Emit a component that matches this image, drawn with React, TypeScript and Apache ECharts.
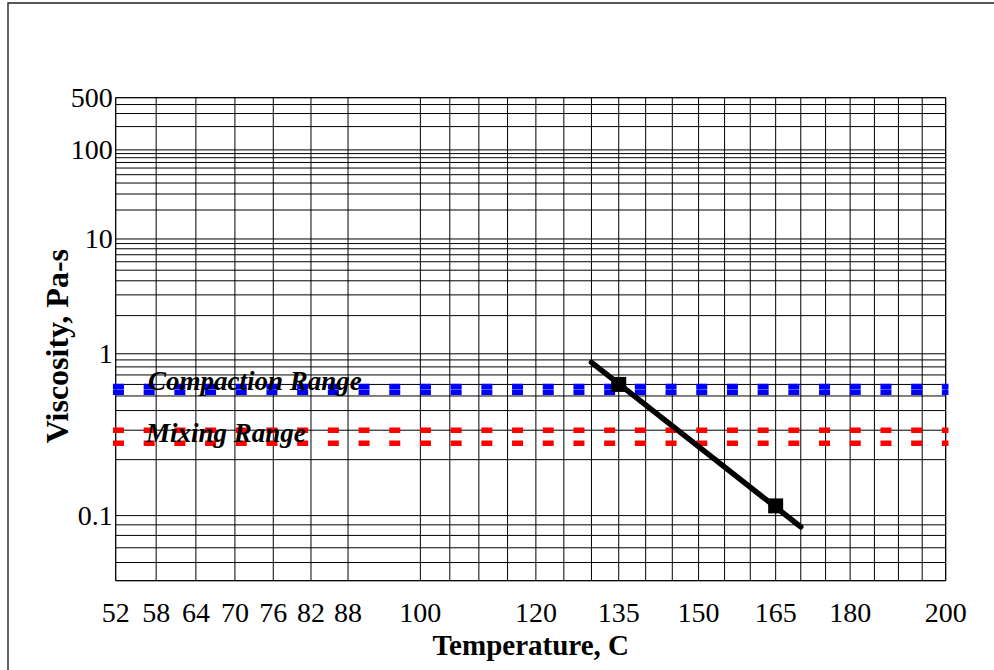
import React, { useEffect, useRef } from "react";
import * as echarts from "echarts";

// Temperature axis (°C) — plotted on log10(T + 273.15)
const tempRange = [52, 200];
const xTickTemps = [52, 58, 64, 70, 76, 82, 88, 100, 120, 135, 150, 165, 180, 200];
const xGridTemps = [52, 58, 64, 70, 76, 82, 88, 100, 105, 110, 115, 120, 125, 130, 135, 140, 145, 150, 155, 160, 165, 170, 175, 180, 185, 190, 195, 200];

// Viscosity axis (Pa-s) — plotted on log10(log10(mPa-s))
const viscRange = [0.05, 500];
const yTickVisc = [500, 100, 10, 1, 0.1];
const yGridVisc = [
  500, 400, 300, 200, 100,
  90, 80, 70, 60, 50, 40, 30, 20, 10,
  9, 8, 7, 6, 5, 4, 3, 2, 1,
  0.9, 0.8, 0.7, 0.6, 0.5, 0.4, 0.3, 0.2, 0.1,
  0.09, 0.08, 0.07, 0.06, 0.05,
];

// Ranges (Pa-s)
const compactionVisc = [0.58, 0.53];
const mixingVisc = [0.3, 0.25];

// Fitted viscosity line and measured points
const fitTemps = [130, 170];
const fitVisc = [0.863, 0.088];
const measTemps = [135, 165];
const measVisc = [0.6, 0.112];

const tx = (t: number) => Math.log10(t + 273.15);
const ty = (v: number) => Math.log10(Math.log10(v * 1000));

const FONT = "'Liberation Serif', 'Times New Roman', serif";

export default function App() {
  const ref = useRef<HTMLDivElement>(null);
  useEffect(() => {
    if (!ref.current) return;
    const chart = echarts.init(ref.current, undefined, { renderer: "svg" });
    const xMin = tx(tempRange[0]);
    const xMax = tx(tempRange[1]);
    const yMin = ty(viscRange[0]);
    const yMax = ty(viscRange[1]);

    const rangeSeries = (vals: number[], color: string, name: string) =>
      vals.map((v, i) => ({
        name: name + i,
        type: "line",
        z: 3,
        silent: true,
        symbol: "none",
        data: [
          [xMin, ty(v)],
          [xMax, ty(v)],
        ],
        lineStyle: { color, width: 5.5, type: [5.5, 25.2], cap: "square", opacity: 1 },
      }));

    const option: any = {
      animation: false,
      backgroundColor: "#fff",
      grid: {
        left: 115.7,
        top: 97.7,
        right: 48.3,
        bottom: 89.3,
        show: true,
        borderColor: "#000",
        borderWidth: 1,
        backgroundColor: "transparent",
      },
      xAxis: {
        type: "value",
        min: xMin,
        max: xMax,
        name: "Temperature, C",
        nameLocation: "middle",
        nameGap: 50,
        nameMoveOverlap: false,
        nameTextStyle: { fontFamily: FONT, fontWeight: "bold", fontSize: 29, color: "#000" },
        axisLine: { show: false },
        axisTick: { show: false },
        splitLine: { show: false },
        axisLabel: {
          customValues: xTickTemps.map(tx),
          formatter: (v: number) => String(Math.round(Math.pow(10, v) - 273.15)),
          fontFamily: FONT,
          fontSize: 28,
          color: "#000",
          margin: 18,
          showMinLabel: true,
          showMaxLabel: true,
        },
      },
      yAxis: {
        type: "value",
        min: yMin,
        max: yMax,
        name: "Viscosity, Pa-s",
        nameLocation: "middle",
        nameGap: 43,
        nameMoveOverlap: false,
        nameTextStyle: { fontFamily: FONT, fontWeight: "bold", fontSize: 32, color: "#000", padding: [0, 14, 0, 0] },
        axisLine: { show: false },
        axisTick: { show: false },
        splitLine: { show: false },
        axisLabel: {
          customValues: yTickVisc.map(ty),
          formatter: (v: number) => {
            const val = Math.pow(10, Math.pow(10, v)) / 1000;
            return String(Number(val.toPrecision(3)));
          },
          fontFamily: FONT,
          fontSize: 28,
          color: "#000",
          margin: 3,
          showMinLabel: true,
          showMaxLabel: true,
        },
      },
      series: [
        {
          type: "custom",
          silent: true,
          z: 1,
          data: xGridTemps.map((t) => [tx(t), yMin]),
          renderItem: (params: any, api: any) => {
            const p = api.coord([api.value(0), api.value(1)]);
            const cs = params.coordSys;
            return {
              type: "line",
              shape: { x1: p[0], y1: cs.y, x2: p[0], y2: cs.y + cs.height },
              style: { stroke: "#000", lineWidth: 1 },
            };
          },
        },
        {
          type: "custom",
          silent: true,
          z: 1,
          data: yGridVisc.map((v) => [xMin, ty(v)]),
          renderItem: (params: any, api: any) => {
            const p = api.coord([api.value(0), api.value(1)]);
            const cs = params.coordSys;
            return {
              type: "line",
              shape: { x1: cs.x, y1: p[1], x2: cs.x + cs.width, y2: p[1] },
              style: { stroke: "#000", lineWidth: 1 },
            };
          },
        },
        ...rangeSeries(compactionVisc, "#0000ff", "Compaction"),
        ...rangeSeries(mixingVisc, "#ff0000", "Mixing"),
        {
          name: "Fit",
          type: "line",
          z: 4,
          silent: true,
          symbol: "none",
          data: fitTemps.map((t, i) => [tx(t), ty(fitVisc[i])]),
          lineStyle: { color: "#000", width: 5.5, cap: "round", opacity: 1 },
        },
        {
          name: "Measured",
          type: "scatter",
          z: 5,
          silent: true,
          symbol: "rect",
          symbolSize: 15,
          itemStyle: { color: "#000", opacity: 1 },
          data: measTemps.map((t, i) => [tx(t), ty(measVisc[i])]),
        },
      ],
      graphic: [
        {
          type: "rect",
          silent: true,
          z: 0,
          shape: { x: 8, y: 3, width: 1100, height: 800 },
          style: { fill: "none", stroke: "#222", lineWidth: 1.4 },
        },
        {
          type: "text",
          z: 100,
          silent: true,
          x: 148,
          y: 381,
          style: {
            text: "Compaction Range",
            font: `italic bold 27px ${FONT}`,
            fill: "#000",
            textVerticalAlign: "middle",
          },
        },
        {
          type: "text",
          z: 100,
          silent: true,
          x: 146,
          y: 433,
          style: {
            text: "Mixing Range",
            font: `italic bold 27px ${FONT}`,
            fill: "#000",
            textVerticalAlign: "middle",
          },
        },
      ],
    };
    chart.setOption(option);
    return () => chart.dispose();
  }, []);
  return (
    <div
      ref={ref}
      style={{ position: "absolute", left: 0, top: 0, width: 994, height: 670, background: "#fff" }}
    />
  );
}
